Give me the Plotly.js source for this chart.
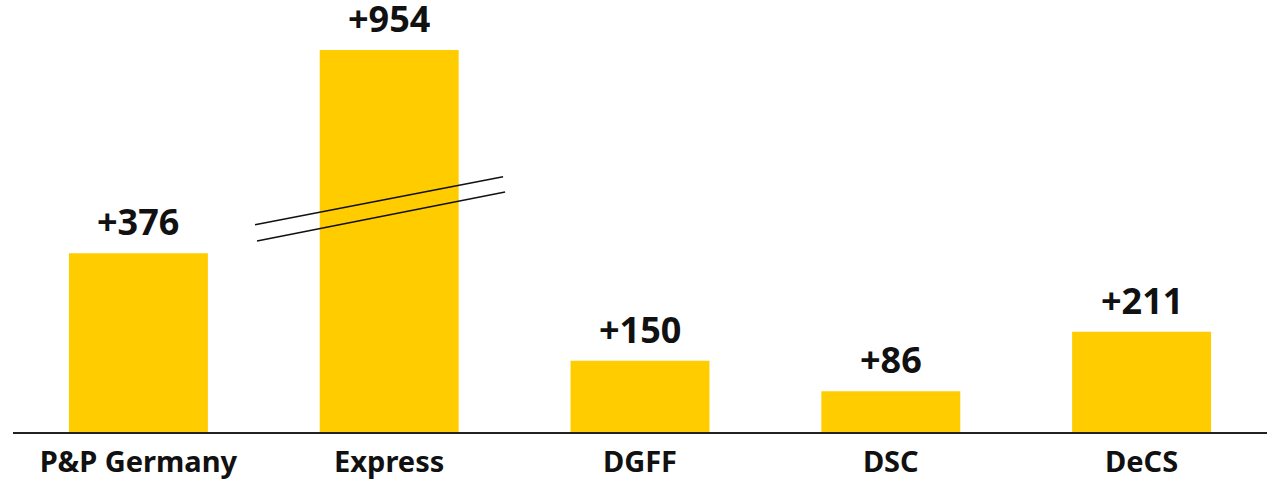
<!DOCTYPE html>
<html>
<head>
<meta charset="utf-8">
<script src="https://cdn.plot.ly/plotly-3.0.1.min.js"></script>
<style>html,body{margin:0;padding:0;background:#fff;}#chart{width:1276px;height:480px;}</style>
</head>
<body>
<div id="chart"></div>
<script>
const categories = ["P&P Germany", "Express", "DGFF", "DSC", "DeCS"];
const values = [376, 954, 150, 86, 211];
const valueLabels = ["+376", "+954", "+150", "+86", "+211"];
const brokenIndex = 1;      // bar drawn with an axis break
const breakGap = 150;       // amount cut out of the broken bar

const shown = values.map((v, i) => i === brokenIndex ? v - breakGap : v);

const fontFam = "'Noto Sans', 'Open Sans', sans-serif";

const annotations = shown.map((v, i) => ({
  x: categories[i], y: v, xref: 'x', yref: 'y',
  text: '<b>' + valueLabels[i] + '</b>',
  showarrow: false, yanchor: 'bottom', yshift: 15,
  height: 30, valign: 'middle',
  font: {family: fontFam, size: 36, color: '#111'}
}));

// break marks across the broken bar (in data units)
const bx = brokenIndex;
const shapes = [
  {type: 'line', xref: 'x', yref: 'y', x0: bx - 0.535, x1: bx + 0.454, y0: 436, y1: 537, line: {color: '#111', width: 1.6}},
  {type: 'line', xref: 'x', yref: 'y', x0: bx - 0.527, x1: bx + 0.462, y0: 402, y1: 505, line: {color: '#111', width: 1.6}}
];

const trace = {
  type: 'bar', x: categories, y: shown,
  marker: {color: '#FFCC00'},
  hoverinfo: 'skip'
};

const layout = {
  width: 1276, height: 480,
  margin: {l: 13, r: 9, t: 0, b: 48},
  paper_bgcolor: '#fff', plot_bgcolor: '#fff',
  bargap: 0.446,
  showlegend: false,
  xaxis: {
    type: 'category', showline: true, linecolor: '#222', linewidth: 1.5,
    ticks: '', showgrid: false, zeroline: false,
    tickfont: {family: fontFam, size: 29, color: '#111', weight: 'bold'},
    ticklabelstandoff: 4
  },
  yaxis: {range: [0, 909], visible: false, showgrid: false, zeroline: false},
  annotations: annotations,
  shapes: shapes
};

Plotly.newPlot('chart', [trace], layout, {displayModeBar: false, staticPlot: true});
</script>
</body>
</html>
